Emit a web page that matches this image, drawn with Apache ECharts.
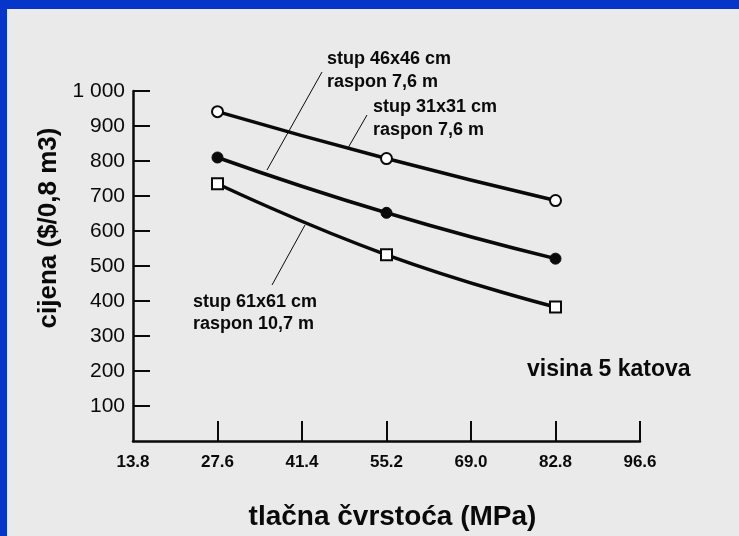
<!DOCTYPE html>
<html>
<head>
<meta charset="utf-8">
<script src="https://cdn.jsdelivr.net/npm/echarts@6/dist/echarts.min.js"></script>
<style>
html, body { margin: 0; padding: 0; }
#chart { width: 739px; height: 536px; }
</style>
</head>
<body>
<div id="chart"></div>
<script>
// x = tlačna čvrstoća (MPa), y = cijena
var xTicks = [13.8, 27.6, 41.4, 55.2, 69.0, 82.8, 96.6];
var yTicks = [100, 200, 300, 400, 500, 600, 700, 800, 900, 1000];
var strength = [27.6, 55.2, 82.8];
var stup46 = [941, 807, 687];
var stup31 = [810, 652, 521];
var stup61 = [735, 532, 383];

function pairs(xs, ys) {
	var out = [];
	for (var i = 0; i < xs.length; i++) {
		out.push([xs[i], ys[i]]);
	}
	return out;
}

var chart = echarts.init(document.getElementById('chart'));

var lineStyle = { color: '#0a0a0a', width: 3.5 };
var font = 'Liberation Sans, Arial, sans-serif';

var option = {
	backgroundColor: '#0536c9',
	animation: false,
	grid: { left: 133, right: 99, top: 91, bottom: 95 },
	xAxis: {
		type: 'value',
		min: 13.8,
		max: 96.6,
		name: 'tlačna čvrstoća (MPa)',
		nameLocation: 'middle',
		nameGap: 62,
		nameTextStyle: { color: '#0a0a0a', fontSize: 28, fontWeight: 'bold', fontFamily: font, padding: [0, 0, 0, 12] },
		splitLine: { show: false },
		axisLine: { lineStyle: { color: '#0a0a0a', width: 2.5 } },
		axisTick: {
			inside: true, length: 20,
			customValues: xTicks.slice(1),
			lineStyle: { color: '#0a0a0a', width: 2 }
		},
		axisLabel: {
			customValues: xTicks,
			margin: 13,
			color: '#0a0a0a', fontSize: 17, fontWeight: 'bold', fontFamily: font,
			formatter: function(v) { return v.toFixed(1); }
		}
	},
	yAxis: {
		type: 'value',
		min: 0,
		max: 1000,
		name: 'cijena ($/0,8 m3)',
		nameLocation: 'middle',
		nameGap: 66,
		nameTextStyle: { color: '#0a0a0a', fontSize: 26, fontWeight: 'bold', fontFamily: font, padding: [0, 0, 0, 76] },
		splitLine: { show: false },
		axisLine: { show: true, lineStyle: { color: '#0a0a0a', width: 2.5 } },
		axisTick: {
			inside: true, length: 17,
			customValues: yTicks,
			lineStyle: { color: '#0a0a0a', width: 2 }
		},
		axisLabel: {
			customValues: yTicks,
			margin: 8,
			color: '#0a0a0a', fontSize: 21, fontFamily: font,
			formatter: function(v) { return v === 1000 ? '1 000' : String(v); }
		}
	},
	graphic: [
		{ type: 'rect', z: -10, silent: true, shape: { x: 7, y: 9, width: 740, height: 540 }, style: { fill: '#eaeaea' } },
		{ type: 'text', left: 327, top: 48, style: { text: 'stup 46x46 cm\nraspon 7,6 m', font: 'bold 18px ' + font, fill: '#0a0a0a', lineHeight: 23 } },
		{ type: 'text', left: 373, top: 96, style: { text: 'stup 31x31 cm\nraspon 7,6 m', font: 'bold 18px ' + font, fill: '#0a0a0a', lineHeight: 23 } },
		{ type: 'text', left: 193, top: 291, style: { text: 'stup 61x61 cm\nraspon 10,7 m', font: 'bold 18px ' + font, fill: '#0a0a0a', lineHeight: 22 } },
		{ type: 'text', left: 527, top: 358, style: { text: 'visina 5 katova', font: 'bold 23px ' + font, fill: '#0a0a0a' } },
		{ type: 'line', shape: { x1: 322, y1: 72, x2: 267, y2: 170 }, style: { stroke: '#0a0a0a', lineWidth: 1 } },
		{ type: 'line', shape: { x1: 367, y1: 115, x2: 348, y2: 148 }, style: { stroke: '#0a0a0a', lineWidth: 1 } },
		{ type: 'line', shape: { x1: 305, y1: 225, x2: 272, y2: 285 }, style: { stroke: '#0a0a0a', lineWidth: 1 } }
	],
	series: [
		{
			name: 'stup 46x46 cm', type: 'line', smooth: true,
			data: pairs(strength, stup46),
			lineStyle: lineStyle,
			symbol: 'circle', symbolSize: 11,
			itemStyle: { color: '#fff', borderColor: '#0a0a0a', borderWidth: 2 }
		},
		{
			name: 'stup 31x31 cm', type: 'line', smooth: true,
			data: pairs(strength, stup31),
			lineStyle: lineStyle,
			symbol: 'circle', symbolSize: 11,
			itemStyle: { color: '#0a0a0a', borderColor: '#0a0a0a', borderWidth: 1 }
		},
		{
			name: 'stup 61x61 cm', type: 'line', smooth: true,
			data: pairs(strength, stup61),
			lineStyle: lineStyle,
			symbol: 'rect', symbolSize: 11,
			itemStyle: { color: '#fff', borderColor: '#0a0a0a', borderWidth: 2 }
		}
	]
};

chart.setOption(option);
</script>
</body>
</html>
